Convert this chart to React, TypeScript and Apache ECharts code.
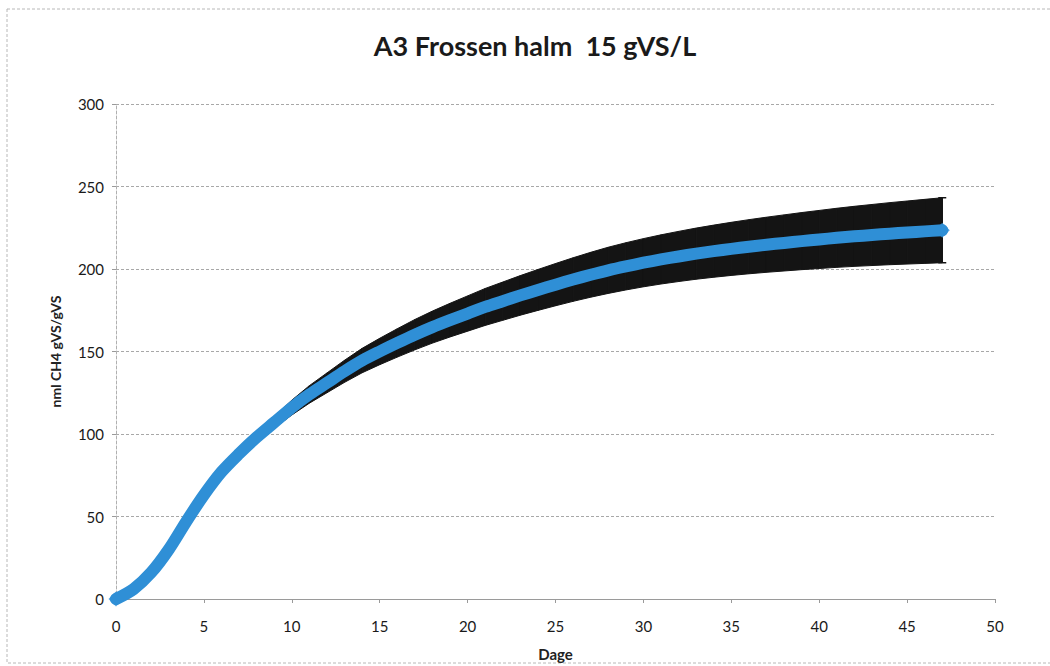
import React, { useEffect, useRef } from "react";
import * as echarts from "echarts";

const titleText = "A3 Frossen halm  15 gVS/L";
const yAxisName = "nml CH4 gVS/gVS";
const xAxisName = "Dage";

const days = [
  0, 1, 2, 3, 4, 5, 6, 7, 8, 9,
  10, 11, 12, 13, 14, 15, 16, 17, 18, 19,
  20, 21, 22, 23, 24, 25, 26, 27, 28, 29,
  30, 31, 32, 33, 34, 35, 36, 37, 38, 39,
  40, 41, 42, 43, 44, 45, 46, 47,
];
const meanValues = [
  0, 6, 16, 30, 47, 63, 77, 88, 98, 107,
  116, 124, 131, 138, 144.5, 150, 155.2, 160.2, 164.8, 169,
  173, 177, 180.5, 184, 187.3, 190.5, 193.6, 196.5, 199.2, 201.6,
  203.8, 205.8, 207.6, 209.3, 210.8, 212.2, 213.5, 214.7, 215.8, 216.9,
  217.9, 218.9, 219.8, 220.6, 221.4, 222.1, 222.8, 223.5,
];
const errValues = [
  0, 0, 0, 0, 0, 0.5, 1, 1.5, 2.5, 3.5,
  4.5, 5.3, 6, 6.7, 7.4, 8, 8.6, 9.2, 9.7, 10.2,
  10.7, 11.2, 11.6, 12, 12.4, 12.8, 13.2, 13.6, 14, 14.3,
  14.6, 14.9, 15.2, 15.5, 15.8, 16.1, 16.4, 16.7, 17, 17.3,
  17.6, 17.9, 18.2, 18.5, 18.8, 19.1, 19.4, 19.7,
];
const xTicks = { min: 0, max: 50, interval: 5 };
const yTicks = { min: 0, max: 300, interval: 50 };

const FONT = "Lato, 'Liberation Sans', sans-serif";
const BLUE = "#2f8fd6";
const BLACK = "#141414";

export default function App() {
  const ref = useRef<HTMLDivElement>(null);
  useEffect(() => {
    document.body.style.margin = "0";
    const chart = echarts.init(ref.current!, null, { renderer: "svg" });

    const bandData = [];
    for (let i = 0; i < days.length - 1; i++) {
      bandData.push([
        days[i], days[i + 1],
        meanValues[i] - errValues[i], meanValues[i] + errValues[i],
        meanValues[i + 1] - errValues[i + 1], meanValues[i + 1] + errValues[i + 1],
      ]);
    }
    const last = days.length - 1;
    const capData = [[days[last], meanValues[last] - errValues[last], meanValues[last] + errValues[last]]];
    const lineData = days.map((d, i) => [d, meanValues[i]]);
    const endPoints = [lineData[0], lineData[last]];

    chart.setOption({
      animation: false,
      backgroundColor: "#ffffff",
      textStyle: { fontFamily: FONT },
      graphic: [
        {
          type: "rect",
          shape: { x: 7, y: 9, width: 1060, height: 654 },
          style: { fill: "none", stroke: "#b8b8b8", lineWidth: 1, lineDash: [3, 2] },
          silent: true,
          z: -10,
        },
        {
          type: "text",
          x: 535,
          y: 45,
          style: {
            text: titleText,
            align: "center",
            verticalAlign: "middle",
            textAlign: "center",
            textVerticalAlign: "middle",
            fontFamily: FONT,
            fontWeight: "bold",
            fontSize: 27,
            fill: "#1a1a1a",
          },
        },
      ],
      grid: { left: 116, right: 55, top: 104, bottom: 58, containLabel: false },
      xAxis: {
        type: "value",
        min: xTicks.min,
        max: xTicks.max,
        interval: xTicks.interval,
        name: xAxisName,
        nameLocation: "middle",
        nameGap: 47,
        nameTextStyle: { fontFamily: FONT, fontWeight: "bold", fontSize: 15, color: "#222" },
        axisLine: { show: true, lineStyle: { color: "#9a9a9a", width: 1 } },
        axisTick: { show: true, length: 4, lineStyle: { color: "#9a9a9a" } },
        axisLabel: { fontFamily: FONT, fontSize: 15, color: "#1a1a1a", margin: 19 },
        splitLine: { show: false },
      },
      yAxis: {
        type: "value",
        min: yTicks.min,
        max: yTicks.max,
        interval: yTicks.interval,
        name: yAxisName,
        nameLocation: "middle",
        nameGap: 54,
        nameRotate: 90,
        nameTextStyle: { fontFamily: FONT, fontWeight: "bold", fontSize: 14, color: "#222" },
        axisLine: { show: true, lineStyle: { color: "#b0b0b0", width: 1, type: [3, 2] } },
        axisTick: { show: true, length: 4, lineStyle: { color: "#9a9a9a" } },
        axisLabel: { fontFamily: FONT, fontSize: 15, color: "#1a1a1a", margin: 12 },
        splitLine: { show: true, lineStyle: { color: "#a8a8a8", width: 1, type: [3, 2] } },
      },
      series: [
        {
          type: "custom",
          name: "error band",
          data: bandData,
          encode: { x: [0, 1], y: [2, 3, 4, 5] },
          silent: true,
          z: 2,
          renderItem: (params: any, api: any) => {
            const a = api.coord([api.value(0), api.value(2)]);
            const b = api.coord([api.value(0), api.value(3)]);
            const c = api.coord([api.value(1), api.value(5)]);
            const d = api.coord([api.value(1), api.value(4)]);
            return {
              type: "polygon",
              shape: { points: [a, b, c, d] },
              style: { fill: BLACK, stroke: BLACK, lineWidth: 1 },
            };
          },
        },
        {
          type: "custom",
          name: "error cap",
          data: capData,
          encode: { x: 0, y: [1, 2] },
          silent: true,
          z: 3,
          renderItem: (params: any, api: any) => {
            const lo = api.coord([api.value(0), api.value(1)]);
            const hi = api.coord([api.value(0), api.value(2)]);
            const w = 4;
            const st = { stroke: BLACK, lineWidth: 1.5 };
            return {
              type: "group",
              children: [
                { type: "line", shape: { x1: lo[0], y1: lo[1], x2: hi[0], y2: hi[1] }, style: st },
                { type: "line", shape: { x1: lo[0] - w, y1: lo[1], x2: lo[0] + w, y2: lo[1] }, style: st },
                { type: "line", shape: { x1: hi[0] - w, y1: hi[1], x2: hi[0] + w, y2: hi[1] }, style: st },
              ],
            };
          },
        },
        {
          type: "line",
          name: "mean",
          data: lineData,
          smooth: 0.3,
          symbol: "none",
          lineStyle: { color: BLUE, width: 12, cap: "round", join: "round" },
          itemStyle: { color: BLUE },
          z: 5,
        },
        {
          type: "scatter",
          name: "ends",
          data: endPoints,
          symbol: "diamond",
          symbolSize: 15,
          itemStyle: { color: BLUE },
          z: 6,
          silent: true,
        },
      ],
    });
    return () => chart.dispose();
  }, []);
  return <div ref={ref} style={{ width: 1050, height: 666 }} />;
}
